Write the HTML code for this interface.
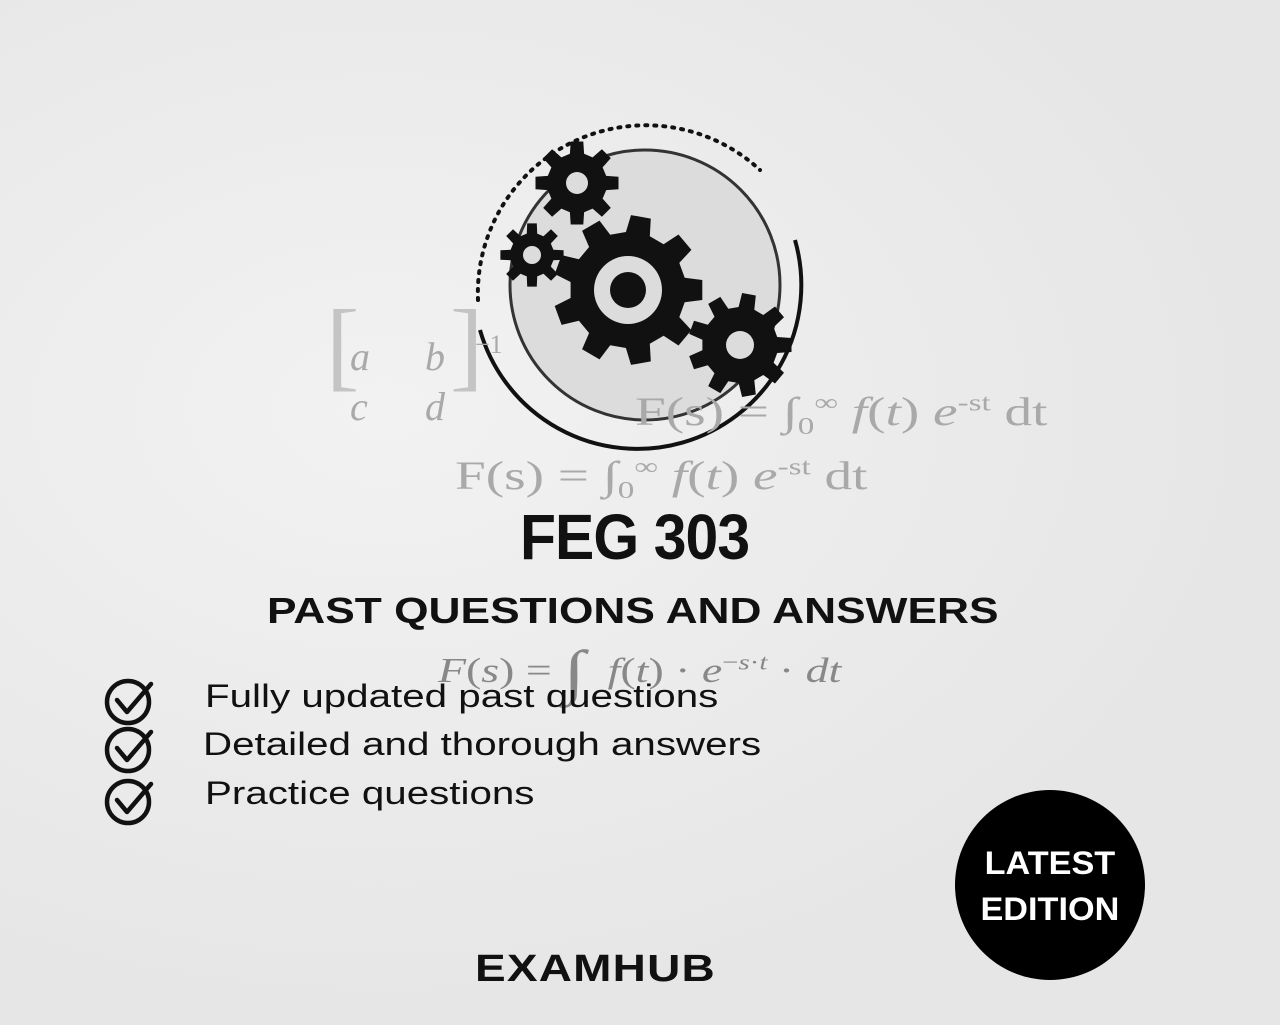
<!DOCTYPE html>
<html><head><meta charset="utf-8"><style>
html,body{margin:0;padding:0}
body{width:1280px;height:1025px;position:relative;overflow:hidden;background:#ebebeb;font-family:"Liberation Sans",sans-serif}
.abs{position:absolute;white-space:nowrap;transform-origin:left top}
.ser{font-family:"Liberation Serif",serif;color:#a9a9a9}
.b{font-weight:bold;color:#111}
.li{font-size:32px;color:#111;left:205px;transform:scaleX(1.26)}
</style></head><body>
<div class="abs" style="left:0;top:0;width:1280px;height:1025px;background:radial-gradient(ellipse at 30% 40%,#f2f2f2,#e6e6e6 70%)"></div>

<svg class="abs" style="left:0;top:0" width="1280" height="1025" id="gsvg">
  <circle cx="645" cy="285" r="135" fill="#dcdcdc" stroke="#333" stroke-width="3"/>
  <path d="M 795 240 A 158 158 0 1 1 480 330" fill="none" stroke="#111" stroke-width="4"/>
  <path d="M 478 300 A 168 168 0 0 1 760 170" fill="none" stroke="#111" stroke-width="4" stroke-dasharray="2 7" stroke-linecap="round"/>
</svg>

<div class="abs ser" style="left:330px;top:332px;font-size:40px;line-height:50px;width:200px;height:100px">
<span style="font-size:100px;position:absolute;left:-4px;top:-12px;font-weight:100;color:#c4c4c4">[</span>
<div style="position:absolute;left:20px;top:0"><i>a</i></div><div style="position:absolute;left:95px;top:0"><i>b</i></div>
<div style="position:absolute;left:20px;top:50px"><i>c</i></div><div style="position:absolute;left:95px;top:50px"><i>d</i></div>
<span style="font-size:100px;position:absolute;left:120px;top:-12px;color:#c4c4c4">]</span>
<span style="position:absolute;left:145px;top:-12px;font-size:26px">−1</span></div>

<div class="abs ser" style="left:635px;top:388px;font-size:40px;transform:scaleX(1.38)">F(s) = ∫<sub style="font-size:24px">0</sub><sup style="font-size:24px">∞</sup> <i>f</i>(<i>t</i>) <i>e</i><sup style="font-size:24px">-st</sup> dt</div>
<div class="abs ser" style="left:455px;top:452px;font-size:40px;transform:scaleX(1.38)">F(s) = ∫<sub style="font-size:24px">0</sub><sup style="font-size:24px">∞</sup> <i>f</i>(<i>t</i>) <i>e</i><sup style="font-size:24px">-st</sup> dt</div>

<div class="abs b" style="left:520px;top:500px;font-size:64px;transform:scaleX(0.92);letter-spacing:-1px">FEG 303</div>
<div class="abs ser" style="left:438px;top:628px;font-size:35px;color:#888;transform:scaleX(1.31)"><i>F</i>(<i>s</i>) = <span style="font-size:60px;position:relative;top:10px">∫</span> &nbsp;<i>f</i>(<i>t</i>) · <i>e</i><sup style="font-size:22px">−<i>s</i>·<i>t</i></sup> · <i>dt</i></div>
<div class="abs b" style="left:267px;top:590px;font-size:36px;transform:scaleX(1.23)">PAST QUESTIONS AND ANSWERS</div>

<div class="abs li" style="top:678px">Fully updated past questions</div>
<div class="abs li" style="top:726px;left:203px">Detailed and thorough answers</div>
<div class="abs li" style="top:775px">Practice questions</div>

<svg class="abs" style="left:95px;top:670px" width="80" height="170">
 <g fill="none" stroke="#111" stroke-width="4.5" stroke-linecap="round" stroke-linejoin="round">
  <circle cx="33" cy="32" r="21"/><path d="M22 30 L32 42 L56 14"/>
  <circle cx="33" cy="80" r="21"/><path d="M22 78 L32 90 L56 62"/>
  <circle cx="33" cy="132" r="21"/><path d="M22 130 L32 142 L56 114"/>
 </g></svg>

<div class="abs" style="left:955px;top:790px;width:190px;height:190px;border-radius:50%;background:#000;color:#fff;font-weight:bold;font-size:32px;text-align:center;line-height:46px;padding-top:50px;box-sizing:border-box"><span style="display:inline-block;transform:scaleX(1.07)">LATEST<br>EDITION</span></div>
<div class="abs b" style="left:475px;top:948px;font-size:38px;letter-spacing:1px;transform:scaleX(1.21)">EXAMHUB</div>

<script>
const svg=document.getElementById('gsvg');
function gear(cx,cy,ro,ri,n,hole,name){
  let pts=[];
  for(let i=0;i<n;i++){
    const a=i*2*Math.PI/n, w=Math.PI/n*0.55;
    [[a-w*1.1,ri],[a-w*0.7,ro],[a+w*0.7,ro],[a+w*1.1,ri]].forEach(p=>pts.push((cx+p[1]*Math.cos(p[0])).toFixed(1)+','+(cy+p[1]*Math.sin(p[0])).toFixed(1)));
  }
  const g=document.createElementNS('http://www.w3.org/2000/svg','polygon');
  g.setAttribute('points',pts.join(' '));g.setAttribute('fill','#111');
  
  
  svg.appendChild(g);
  const c=document.createElementNS('http://www.w3.org/2000/svg','circle');
  c.setAttribute('cx',cx);c.setAttribute('cy',cy);c.setAttribute('r',hole);c.setAttribute('fill','#dcdcdc');
  
  
  svg.appendChild(c);
  return c;
}
gear(628,290,75,58,9,34,'main-gear');
const d=document.createElementNS('http://www.w3.org/2000/svg','circle');
d.setAttribute('cx',628);d.setAttribute('cy',290);d.setAttribute('r',18);d.setAttribute('fill','#111');


svg.appendChild(d);
gear(577,183,42,30,8,11,'top-gear');
gear(532,255,32,22,8,9,'small-gear');
gear(740,345,52,38,9,14,'right-gear');
</script>
</body></html>
